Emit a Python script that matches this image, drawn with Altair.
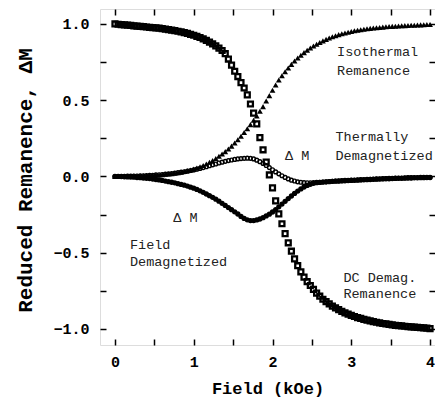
import altair as alt
import pandas as pd

FIELD = [0.00, 0.04, 0.08, 0.12, 0.16,
         0.20, 0.24, 0.28, 0.32, 0.36,
         0.40, 0.44, 0.48, 0.52, 0.56,
         0.60, 0.64, 0.68, 0.72, 0.76,
         0.80, 0.84, 0.88, 0.92, 0.96,
         1.00, 1.04, 1.08, 1.12, 1.16,
         1.20, 1.24, 1.28, 1.32, 1.36,
         1.40, 1.44, 1.48, 1.52, 1.56,
         1.60, 1.64, 1.68, 1.72, 1.76,
         1.80, 1.84, 1.88, 1.92, 1.96,
         2.00, 2.04, 2.08, 2.12, 2.16,
         2.20, 2.24, 2.28, 2.32, 2.36,
         2.40, 2.44, 2.48, 2.52, 2.56,
         2.60, 2.64, 2.68, 2.72, 2.76,
         2.80, 2.84, 2.88, 2.92, 2.96,
         3.00, 3.04, 3.08, 3.12, 3.16,
         3.20, 3.24, 3.28, 3.32, 3.36,
         3.40, 3.44, 3.48, 3.52, 3.56,
         3.60, 3.64, 3.68, 3.72, 3.76,
         3.80, 3.84, 3.88, 3.92, 3.96,
         4.00]

IRM = [0.000, 0.000, 0.001, 0.001, 0.002,
       0.002, 0.003, 0.003, 0.004, 0.005,
       0.006, 0.007, 0.008, 0.009, 0.010,
       0.012, 0.014, 0.016, 0.018, 0.021,
       0.024, 0.028, 0.032, 0.037, 0.042,
       0.048, 0.055, 0.063, 0.072, 0.082,
       0.093, 0.105, 0.118, 0.132, 0.147,
       0.163, 0.180, 0.199, 0.219, 0.241,
       0.264, 0.288, 0.313, 0.340, 0.368,
       0.397, 0.427, 0.458, 0.495, 0.530,
       0.565, 0.600, 0.632, 0.660, 0.686,
       0.711, 0.735, 0.757, 0.777, 0.795,
       0.812, 0.827, 0.842, 0.855, 0.867,
       0.878, 0.889, 0.899, 0.908, 0.916,
       0.923, 0.930, 0.936, 0.941, 0.946,
       0.951, 0.955, 0.959, 0.962, 0.965,
       0.968, 0.971, 0.973, 0.975, 0.977,
       0.979, 0.981, 0.983, 0.984, 0.985,
       0.987, 0.988, 0.989, 0.990, 0.991,
       0.992, 0.993, 0.994, 0.995, 0.996,
       0.997]

DCD = [1.000, 0.998, 0.996, 0.994, 0.992,
       0.990, 0.988, 0.986, 0.984, 0.982,
       0.980, 0.978, 0.976, 0.974, 0.972,
       0.969, 0.966, 0.963, 0.960, 0.956,
       0.952, 0.948, 0.943, 0.938, 0.932,
       0.926, 0.919, 0.911, 0.902, 0.892,
       0.881, 0.869, 0.856, 0.842, 0.826,
       0.805, 0.770, 0.730, 0.690, 0.655,
       0.615, 0.580, 0.535, 0.475, 0.415,
       0.345, 0.255, 0.175, 0.095, 0.010,
       -0.075, -0.160, -0.245, -0.310, -0.375,
       -0.435, -0.490, -0.540, -0.585, -0.625,
       -0.660, -0.690, -0.715, -0.740, -0.765,
       -0.785, -0.805, -0.820, -0.835, -0.850,
       -0.862, -0.873, -0.884, -0.894, -0.903,
       -0.911, -0.918, -0.925, -0.931, -0.937,
       -0.942, -0.947, -0.952, -0.956, -0.960,
       -0.964, -0.967, -0.970, -0.973, -0.976,
       -0.978, -0.980, -0.982, -0.984, -0.986,
       -0.988, -0.990, -0.991, -0.993, -0.995,
       -0.997]

THERMAL_DM = [0.000, 0.000, 0.001, 0.001, 0.002,
              0.002, 0.003, 0.003, 0.004, 0.005,
              0.006, 0.007, 0.008, 0.010, 0.011,
              0.013, 0.015, 0.017, 0.019, 0.022,
              0.025, 0.028, 0.031, 0.035, 0.039,
              0.043, 0.048, 0.053, 0.058, 0.064,
              0.070, 0.076, 0.082, 0.088, 0.094,
              0.099, 0.104, 0.108, 0.112, 0.115,
              0.117, 0.119, 0.120, 0.119, 0.115,
              0.107, 0.097, 0.085, 0.072, 0.058,
              0.044, 0.030, 0.017, 0.005, -0.006,
              -0.016, -0.024, -0.030, -0.035, -0.038,
              -0.040, -0.041, -0.041, -0.040, -0.039,
              -0.038, -0.036, -0.035, -0.033, -0.032,
              -0.030, -0.029, -0.027, -0.026, -0.025,
              -0.024, -0.023, -0.022, -0.021, -0.020,
              -0.019, -0.018, -0.017, -0.016, -0.015,
              -0.014, -0.013, -0.012, -0.012, -0.011,
              -0.010, -0.010, -0.009, -0.008, -0.008,
              -0.007, -0.007, -0.006, -0.006, -0.005,
              -0.005]

FIELD_DM = [0.000, 0.000, -0.001, -0.002, -0.003,
            -0.004, -0.005, -0.007, -0.008, -0.010,
            -0.012, -0.014, -0.017, -0.020, -0.023,
            -0.026, -0.030, -0.034, -0.038, -0.042,
            -0.047, -0.052, -0.057, -0.063, -0.070,
            -0.077, -0.085, -0.094, -0.104, -0.115,
            -0.126, -0.137, -0.149, -0.162, -0.176,
            -0.190, -0.204, -0.218, -0.232, -0.246,
            -0.262, -0.275, -0.284, -0.289, -0.289,
            -0.285, -0.279, -0.270, -0.259, -0.247,
            -0.233, -0.217, -0.199, -0.181, -0.163,
            -0.145, -0.128, -0.111, -0.096, -0.082,
            -0.069, -0.059, -0.051, -0.045, -0.041,
            -0.039, -0.037, -0.035, -0.034, -0.032,
            -0.031, -0.030, -0.029, -0.028, -0.027,
            -0.026, -0.025, -0.024, -0.023, -0.022,
            -0.021, -0.020, -0.019, -0.018, -0.017,
            -0.016, -0.015, -0.015, -0.014, -0.013,
            -0.012, -0.012, -0.011, -0.010, -0.010,
            -0.009, -0.009, -0.008, -0.008, -0.007,
            -0.007]

LABEL_TEXT = ["Isothermal", "Remanence", "Thermally", "Demagnetized", "\u0394 M",
              "\u0394 M", "Field", "Demagnetized", "DC Demag.", "Remanence"]
LABEL_X = [2.82, 2.82, 2.80, 2.80, 2.16, 0.74, 0.19, 0.19, 2.90, 2.90]
LABEL_Y = [0.817, 0.69, 0.262, 0.135, 0.135, -0.275, -0.452, -0.562, -0.663, -0.768]

X_TICKS = [0, 0.5, 1, 1.5, 2, 2.5, 3, 3.5, 4]
X_LABELS = [0, 1, 2, 3, 4]
Y_TICKS = [-1, -0.75, -0.5, -0.25, 0, 0.25, 0.5, 0.75, 1]
Y_LABELS = [-1, -0.5, 0, 0.5, 1]

AXFONT = "Liberation Mono"
TXTFONT = "Liberation Mono"

df_irm = pd.DataFrame({"x": FIELD, "y": IRM})
df_dcd = pd.DataFrame({"x": FIELD, "y": DCD})
df_th = pd.DataFrame({"x": FIELD, "y": THERMAL_DM})
df_fd = pd.DataFrame({"x": FIELD, "y": FIELD_DM})
df_lab = pd.DataFrame({"x": LABEL_X, "y": LABEL_Y, "t": LABEL_TEXT})

xs = alt.Scale(domain=[-0.19, 4.063], nice=False, zero=False)
ys = alt.Scale(domain=[-1.105, 1.098], nice=False, zero=False)


def tick_axis(orient, values):
    return alt.Axis(orient=orient, values=values, labels=False, domain=False,
                    ticks=True, tickSize=6, tickWidth=1.5, tickColor="black",
                    offset=-6, title=None, grid=False)


x_main = alt.Axis(orient="bottom", values=X_LABELS, ticks=False, domain=False, grid=False,
                  labelFont=AXFONT, labelFontWeight="bold", labelFontSize=15,
                  labelColor="black", labelPadding=9, format="d",
                  title="Field (kOe)", titleFont=AXFONT, titleFontWeight="bold",
                  titleFontSize=17, titleColor="black", titleY=43, titleBaseline="middle")
y_main = alt.Axis(orient="left", values=Y_LABELS, ticks=False, domain=False, grid=False,
                  labelFont=AXFONT, labelFontWeight="bold", labelFontSize=15,
                  labelColor="black", labelPadding=11, format=".1f",
                  title="Reduced Remanence,   \u0394M", titleFont=AXFONT,
                  titleFontWeight="bold", titleFontSize=21, titleColor="black",
                  titleX=-75, titleY=171, titleBaseline="middle", titleAngle=-90)

irm = alt.Chart(df_irm).mark_point(shape="triangle-up", filled=True, size=34,
                                   color="black", opacity=1).encode(
    x=alt.X("x:Q", scale=xs, axis=x_main),
    y=alt.Y("y:Q", scale=ys, axis=y_main),
)

dcd = alt.Chart(df_dcd).mark_point(shape="square", filled=False, size=24,
                                   strokeWidth=2.3, color="black", opacity=1).encode(
    x=alt.X("x:Q", scale=xs, axis=tick_axis("bottom", X_TICKS)),
    y=alt.Y("y:Q", scale=ys, axis=tick_axis("left", Y_TICKS)),
)

th = alt.Chart(df_th).mark_point(shape="circle", filled=False, size=14,
                                 strokeWidth=1.4, color="black", opacity=1).encode(
    x=alt.X("x:Q", scale=xs, axis=tick_axis("top", X_TICKS)),
    y=alt.Y("y:Q", scale=ys, axis=tick_axis("right", Y_TICKS)),
)

fd = alt.Chart(df_fd).mark_point(shape="circle", filled=True, size=28,
                                 color="black", opacity=1).encode(
    x=alt.X("x:Q", scale=xs, axis=None),
    y=alt.Y("y:Q", scale=ys, axis=None),
)

labels = alt.Chart(df_lab).mark_text(align="left", baseline="middle", font=TXTFONT,
                                     fontSize=13.5, color="#222").encode(
    x=alt.X("x:Q", scale=xs, axis=None),
    y=alt.Y("y:Q", scale=ys, axis=None),
    text="t:N",
)

chart = alt.layer(fd, th, irm, dcd, labels).resolve_axis(
    x="independent", y="independent"
).properties(
    width=335, height=336,
    autosize=alt.AutoSizeParams(type="none"),
    padding={"left": 92, "top": 1, "right": 0, "bottom": 52},
).configure_view(stroke="black", strokeWidth=1.5).configure(background="white")

chart.save("out.html", embed_options={"renderer": "svg", "actions": False})
